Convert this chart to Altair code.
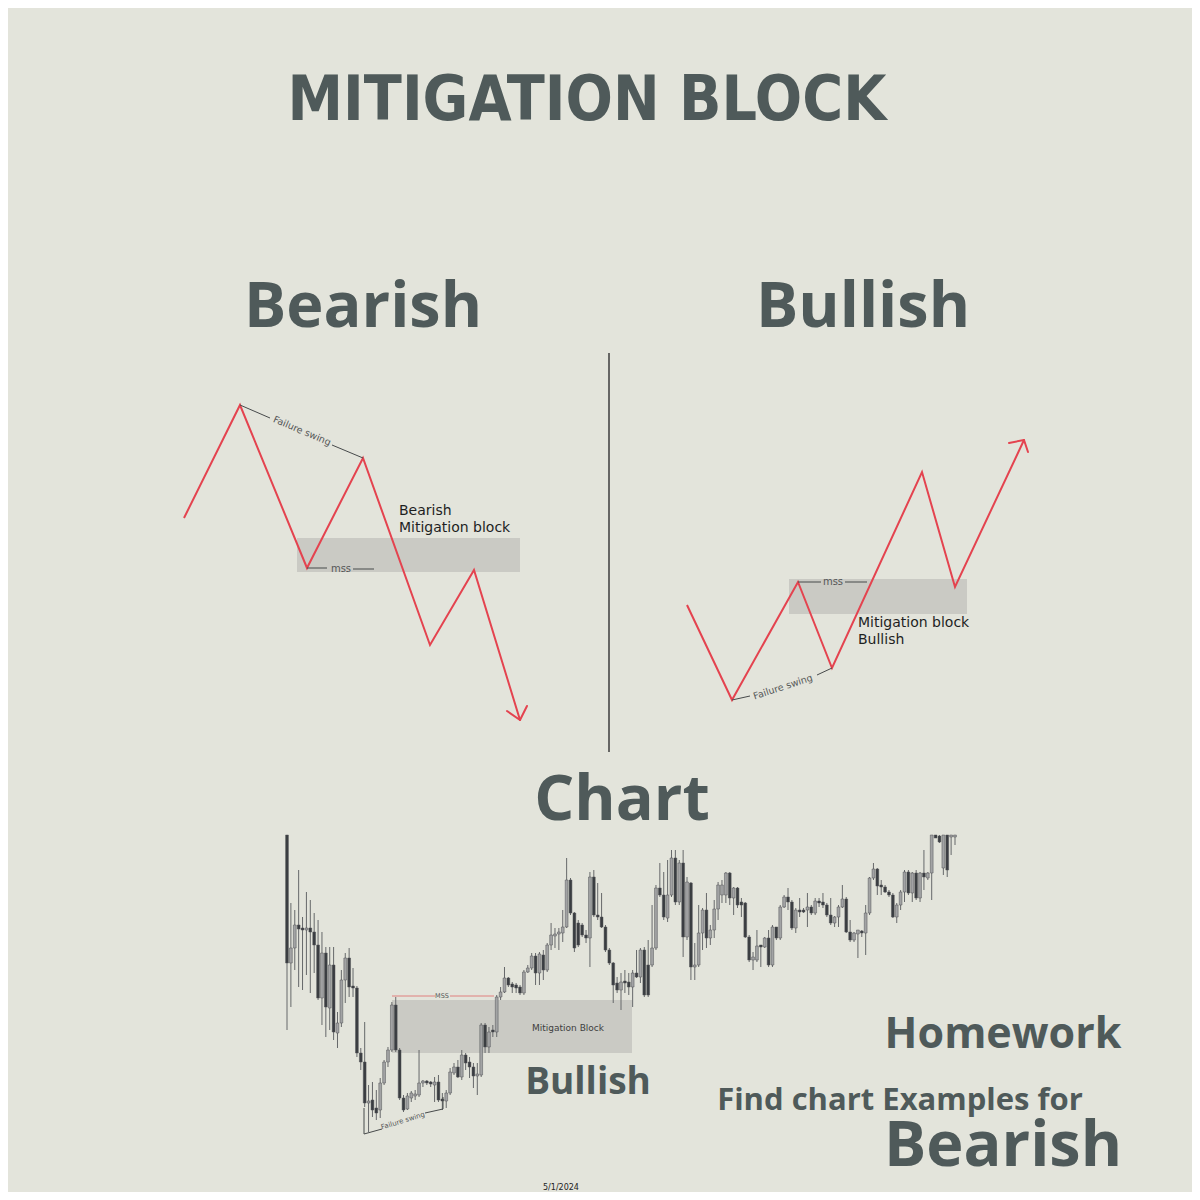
import altair as alt
import pandas as pd

# ---------------- palette ----------------
BG = "#e3e4db"
INK = "#4f5a5a"
RED = "#e4434f"
LINE_INK = "#474a4b"
BOX = "#cacac4"

# ---------------- canvas scales (picture units, 0 = top-left) ----------------
CANVAS = [8, 1192]
XS = alt.Scale(domain=CANVAS, nice=False)
YS = alt.Scale(domain=CANVAS, nice=False, reverse=True)

# ---------------- candlestick data (price in picture units, smaller = higher) ----------------
c_kind = list(
    "dllddldddl" "dldllldddd" "dlddlllldd" "dlllllddld" "dllldldddl"
    "ldldlllddd" "dllldldlll" "llldddddld" "ddddddlddl" "dlddllddll"
    "dldldllldl" "lllldldddd" "lldldldlld" "dlddldlddd" "dlllddlldl"
    "lldddddlll" "dldldllddl" "dll"
)
c_top = [
    835, 948, 925, 925, 928, 928, 928, 932, 945, 953, 953, 965, 965, 1023, 980, 958, 958, 986, 988, 1053,
    1062, 1101, 1100, 1108, 1083, 1062, 1050, 1005, 1005, 1050, 1098, 1096, 1093, 1094, 1083, 1081, 1081, 1082, 1082, 1082,
    1099, 1093, 1072, 1067, 1067, 1055, 1055, 1062, 1067, 1074, 1025, 1025, 1032, 1030, 997, 992, 978, 978, 984, 985,
    987, 972, 968, 956, 956, 954, 955, 945, 935, 934, 932, 927, 880, 880, 913, 923, 925, 935, 877, 877,
    915, 917, 927, 950, 963, 983, 982, 981, 982, 973, 973, 950, 950, 965, 948, 888, 888, 895, 895, 858,
    858, 863, 863, 882, 883, 965, 933, 910, 910, 930, 909, 885, 885, 873, 873, 888, 888, 902, 903, 937,
    957, 946, 945, 938, 938, 927, 927, 907, 897, 897, 902, 910, 910, 910, 907, 907, 901, 901, 902, 905,
    915, 917, 907, 899, 899, 932, 933, 930, 931, 913, 878, 869, 869, 885, 887, 892, 895, 905, 892, 872,
    872, 873, 873, 873, 873, 873, 835, 835, 836, 835, 835, 835, 835,
]
c_bot = [
    963, 963, 948, 929, 930, 930, 932, 945, 998, 998, 1007, 1008, 1032, 1033, 1023, 980, 987, 988, 1053, 1062,
    1103, 1103, 1110, 1113, 1110, 1083, 1062, 1050, 1050, 1098, 1110, 1109, 1098, 1096, 1095, 1083, 1083, 1084, 1085, 1100,
    1101, 1101, 1093, 1073, 1077, 1077, 1063, 1067, 1076, 1076, 1075, 1047, 1047, 1032, 1032, 997, 992, 985, 987, 988,
    993, 993, 972, 968, 973, 973, 970, 970, 945, 936, 934, 933, 927, 913, 948, 945, 935, 938, 938, 915,
    917, 927, 950, 963, 985, 990, 990, 983, 987, 987, 977, 977, 995, 995, 965, 948, 895, 917, 918, 895,
    902, 902, 937, 937, 967, 967, 965, 933, 938, 938, 930, 909, 895, 895, 898, 898, 905, 905, 937, 960,
    960, 960, 947, 947, 965, 965, 938, 938, 907, 902, 928, 928, 912, 912, 910, 913, 913, 903, 905, 915,
    923, 923, 917, 907, 932, 940, 940, 934, 933, 933, 913, 878, 886, 887, 892, 895, 917, 917, 905, 892,
    893, 893, 898, 898, 877, 878, 873, 838, 842, 868, 870, 837, 837,
]
c_hi = [
    835, 903, 910, 870, 917, 892, 900, 913, 920, 932, 947, 947, 947, 1012, 970, 953, 948, 968, 986, 1048,
    1022, 1085, 1082, 1090, 1078, 1060, 1047, 1002, 997, 1048, 1095, 1093, 1091, 1090, 1050, 1080, 1080, 1081, 1077, 1075,
    1093, 1090, 1068, 1063, 1060, 1050, 1053, 1057, 1063, 1063, 1023, 1023, 1027, 1025, 995, 987, 967, 977, 982, 983,
    985, 970, 965, 953, 953, 952, 950, 943, 923, 928, 928, 910, 858, 878, 912, 920, 923, 930, 872, 870,
    883, 893, 925, 948, 962, 977, 973, 970, 973, 970, 950, 948, 947, 940, 905, 885, 863, 872, 860, 850,
    850, 860, 850, 877, 882, 943, 905, 908, 893, 925, 900, 882, 880, 872, 872, 887, 887, 898, 902, 935,
    952, 930, 945, 937, 930, 925, 927, 905, 895, 888, 900, 908, 898, 908, 893, 905, 898, 898, 893, 903,
    898, 916, 905, 885, 897, 920, 932, 930, 930, 905, 877, 863, 868, 880, 885, 890, 893, 903, 890, 870,
    870, 872, 870, 872, 850, 872, 835, 835, 835, 835, 835, 835, 835,
]
c_lo = [
    1030, 1007, 970, 987, 990, 975, 993, 973, 1000, 1025, 1037, 1030, 1040, 1048, 1027, 1003, 997, 997, 1057, 1070,
    1107, 1132, 1117, 1120, 1118, 1085, 1067, 1052, 1052, 1100, 1112, 1110, 1102, 1100, 1097, 1087, 1085, 1087, 1102, 1102,
    1110, 1108, 1095, 1075, 1078, 1080, 1070, 1078, 1088, 1095, 1077, 1053, 1053, 1037, 1037, 1000, 993, 987, 993, 993,
    995, 995, 973, 970, 985, 985, 980, 972, 950, 948, 950, 942, 928, 915, 952, 947, 937, 943, 967, 917,
    920, 928, 952, 965, 1003, 993, 1010, 993, 995, 1007, 978, 983, 997, 997, 967, 950, 897, 920, 922, 897,
    905, 905, 957, 940, 980, 980, 967, 950, 948, 945, 938, 920, 903, 903, 905, 915, 908, 917, 938, 962,
    970, 962, 967, 948, 967, 967, 940, 940, 908, 910, 930, 933, 917, 913, 927, 915, 915, 907, 908, 917,
    925, 927, 927, 908, 933, 942, 942, 958, 937, 955, 915, 880, 895, 895, 893, 897, 918, 923, 910, 902,
    895, 902, 900, 902, 890, 880, 900, 838, 843, 875, 877, 855, 845,
]

n_c = min(len(c_kind), len(c_top), len(c_bot), len(c_hi), len(c_lo))
c_index = list(range(n_c))

# ---------------- schematic zig-zags ----------------
bear_x = [184, 240, 307, 363, 430, 474, 520]
bear_y = [518, 405, 568, 458, 645, 570, 720]
bull_x = [687, 732, 798, 832, 922, 955, 1024]
bull_y = [605, 700, 582, 668, 472, 587, 440]

# arrow heads (tip -> barb end)
arrow_x = [520, 520, 1024, 1024]
arrow_y = [720, 720, 440, 440]
arrow_x2 = [507, 527, 1009, 1028]
arrow_y2 = [711, 706, 443, 452]

# shaded mitigation blocks
box_x = [297, 789, 392]
box_x2 = [520, 967, 632]
box_y = [538, 579, 1000]
box_y2 = [572, 614, 1053]

# thin annotation strokes (failure swing / mss brackets)
ann_x = [240, 332, 307, 353, 732, 817, 798, 845, 364, 364, 425, 443]
ann_y = [405, 445, 568, 569, 700, 675, 582, 582, 1108, 1134, 1113, 1109]
ann_x2 = [270, 363, 327, 374, 750, 832, 821, 867, 364, 382, 443, 443]
ann_y2 = [418, 458, 568, 569, 696, 668, 582, 582, 1134, 1129, 1109, 1097]

# chart MSS level (red)
mss_x = [392, 450]
mss_x2 = [435, 494]
mss_y = [996, 996]

# divider
div_x = [609]
div_y = [353]
div_y2 = [752]

# ---------------- texts ----------------
title_text = ["MITIGATION BLOCK"]
title_x = [587]
title_y = [120]

big_text = ["Bearish", "Bullish"]
big_x = [363, 863]
big_y = [327, 327]

bottom_bear_text = ["Bearish"]
bottom_bear_x = [1003]
bottom_bear_y = [1166]

chart_text = ["Chart"]
chart_x = [622]
chart_y = [820]

home_text = ["Homework"]
home_x = [1003]
home_y = [1048]

bullish_small_text = ["Bullish"]
bullish_small_x = [588]
bullish_small_y = [1094]

find_text = ["Find chart Examples for"]
find_x = [900]
find_y = [1110]

label_text = ["Bearish", "Mitigation block", "Mitigation block", "Bullish"]
label_x = [399, 399, 858, 858]
label_y = [515, 532, 627, 644]

fs_text = ["Failure swing"]
fs_x = [302]
fs_y = [431]
fs2_text = ["Failure swing"]
fs2_x = [783]
fs2_y = [687]
fs3_text = ["Failure swing"]
fs3_x = [403]
fs3_y = [1121]

mss_text = ["mss", "mss"]
mss_tx = [341, 833]
mss_ty = [569, 582]

chart_mss_text = ["MSS"]
chart_mss_x = [442]
chart_mss_y = [996]

block_text = ["Mitigation Block"]
block_x = [568]
block_y = [1028]

date_text = ["5/1/2024"]
date_x = [561]
date_y = [1190]


def X(field="x"):
    return alt.X(f"{field}:Q", scale=XS, axis=None)


def Y(field="y"):
    return alt.Y(f"{field}:Q", scale=YS, axis=None)


def text_layer(labels, xs, ys, size, font, weight="normal", color=INK, angle=0,
               align="center", baseline="alphabetic"):
    df = pd.DataFrame({"x": xs, "y": ys, "t": labels})
    return alt.Chart(df).mark_text(
        fontSize=size, font=font, fontWeight=weight, color=color, angle=angle,
        align=align, baseline=baseline,
    ).encode(x=X(), y=Y(), text="t:N")


# ---------------- layers ----------------
boxes = alt.Chart(pd.DataFrame({"x": box_x, "x2": box_x2, "y": box_y, "y2": box_y2})).mark_rect(
    color=BOX
).encode(x=X(), x2="x2:Q", y=Y(), y2="y2:Q")

cdf = pd.DataFrame({
    "i": c_index, "top": c_top[:n_c], "bot": c_bot[:n_c], "hi": c_hi[:n_c], "lo": c_lo[:n_c],
    "k": c_kind[:n_c],
})
CX = alt.X("i:Q", scale=alt.Scale(domain=[0, n_c - 1], range=[274, 952], nice=False), axis=None)
wicks = alt.Chart(cdf).mark_rule(color="#66686a", strokeWidth=1).encode(
    x=CX, y=alt.Y("hi:Q", scale=YS, axis=None), y2="lo:Q"
)
bodies = alt.Chart(cdf).mark_bar(size=2.8, stroke="#505356", strokeWidth=0.5).encode(
    x=CX, y=alt.Y("top:Q", scale=YS, axis=None), y2="bot:Q",
    color=alt.Color("k:N", scale=alt.Scale(domain=["d", "l"], range=["#3a3d41", "#a2a3a4"]), legend=None),
)
candles = alt.layer(wicks, bodies)

zz = pd.DataFrame({
    "x": bear_x + bull_x,
    "y": bear_y + bull_y,
    "s": ["bear"] * len(bear_x) + ["bull"] * len(bull_x),
    "o": list(range(len(bear_x))) + list(range(len(bull_x))),
})
zig = alt.Chart(zz).mark_line(color=RED, strokeWidth=2, strokeJoin="miter").encode(
    x=X(), y=Y(), detail="s:N", order="o:Q"
)
arrows = alt.Chart(pd.DataFrame({"x": arrow_x, "y": arrow_y, "x2": arrow_x2, "y2": arrow_y2})).mark_rule(
    color=RED, strokeWidth=2, strokeCap="round"
).encode(x=X(), y=Y(), x2="x2:Q", y2="y2:Q")

ann = alt.Chart(pd.DataFrame({"x": ann_x, "y": ann_y, "x2": ann_x2, "y2": ann_y2})).mark_rule(
    color=LINE_INK, strokeWidth=1
).encode(x=X(), y=Y(), x2="x2:Q", y2="y2:Q")

mss_line = alt.Chart(pd.DataFrame({"x": mss_x, "x2": mss_x2, "y": mss_y})).mark_rule(
    color="#e0807f", strokeWidth=1
).encode(x=X(), x2="x2:Q", y=Y())

divider = alt.Chart(pd.DataFrame({"x": div_x, "y": div_y, "y2": div_y2})).mark_rule(
    color="#3c3c3c", strokeWidth=1.5
).encode(x=X(), y=Y(), y2="y2:Q")

HEAD_FONT = "Open Sans"
HEAD_W = "bold"
LABEL_FONT = "DejaVu Sans"

overlay = alt.layer(
    zig, arrows, ann, mss_line, divider,
    text_layer(title_text, title_x, title_y, 62, "DejaVu Sans Condensed, Liberation Sans Narrow, Lato", "bold"),
    text_layer(big_text, big_x, big_y, 63, HEAD_FONT, HEAD_W),
    text_layer(bottom_bear_text, bottom_bear_x, bottom_bear_y, 63, HEAD_FONT, HEAD_W),
    text_layer(chart_text, chart_x, chart_y, 63, HEAD_FONT, HEAD_W),
    text_layer(home_text, home_x, home_y, 43, HEAD_FONT, HEAD_W),
    text_layer(bullish_small_text, bullish_small_x, bullish_small_y, 37, HEAD_FONT, HEAD_W),
    text_layer(find_text, find_x, find_y, 31, HEAD_FONT, HEAD_W),
    text_layer(label_text, label_x, label_y, 14, LABEL_FONT, "normal", "#1e1f1f", align="left"),
    text_layer(fs_text, fs_x, fs_y, 9.5, LABEL_FONT, "normal", "#555757", angle=23, baseline="middle"),
    text_layer(fs2_text, fs2_x, fs2_y, 9.5, LABEL_FONT, "normal", "#555757", angle=342, baseline="middle"),
    text_layer(fs3_text, fs3_x, fs3_y, 7, LABEL_FONT, "normal", "#555757", angle=343, baseline="middle"),
    text_layer(mss_text, mss_tx, mss_ty, 10, LABEL_FONT, "normal", "#555757", baseline="middle"),
    text_layer(chart_mss_text, chart_mss_x, chart_mss_y, 6.5, LABEL_FONT, "normal", "#555757", baseline="middle"),
    text_layer(block_text, block_x, block_y, 9, LABEL_FONT, "normal", "#3e4040", baseline="middle"),
    text_layer(date_text, date_x, date_y, 8, LABEL_FONT, "normal", "#222222"),
)

chart = alt.layer(boxes, candles, overlay).resolve_scale(x="independent").properties(
    width=1184, height=1184, autosize=alt.AutoSizeParams(type="none"), padding=0, background=BG,
).configure_view(stroke=None)

chart.save("out.html", embed_options={"renderer": "svg", "actions": False})
